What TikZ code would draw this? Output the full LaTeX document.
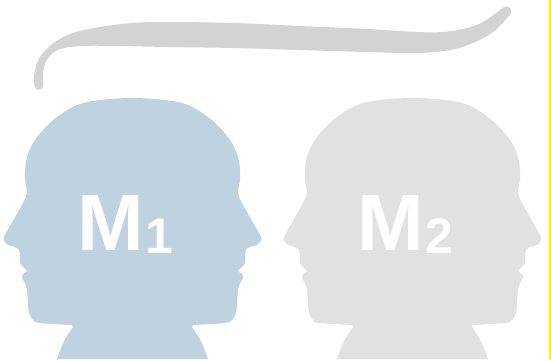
\documentclass[tikz,border=0pt]{standalone}
\usepackage{fontspec}
\setmainfont{Liberation Sans}
\usepackage{xcolor}
\usepackage{tikz}
\usetikzlibrary{positioning}

\definecolor{headblue}{RGB}{191,210,223}
\definecolor{headgray}{RGB}{225,225,225}
\definecolor{swooshgray}{RGB}{211,211,211}

% subscript digit next to the big M
\newcommand{\headidx}[1]{{\fontsize{50}{50}\selectfont\kern2pt\raisebox{-3pt}{#1}}}

\begin{document}
\begin{tikzpicture}[
        x=1pt, y=-1pt,
        twoface/.pic={
            \fill[pic actions] (-75.5,359) .. controls (-69,341) .. (-59.5,327)
                -- plot[smooth, tension=0.55] coordinates {
                    (-60.5,325) (-92.5,323) (-99.5,320) (-103.5,313) (-104.5,303)
                    (-105.5,290) (-107.5,283) (-110.5,278) (-109.5,274) (-105.5,271)
                    (-109.5,267) (-112.5,263) (-112.5,257) (-113.5,250) (-117.5,247)
                    (-124.5,245) (-127.5,242) (-128.5,237) (-119,220) (-109.5,203)
                    (-105.5,193) (-107.5,180) (-107.5,170) (-105.5,157) (-99.5,143)
                    (-89.5,130) (-75.5,117) (-55.5,105) (-32.5,100) (0,98)
                    (32.5,100) (55.5,105) (75.5,117) (89.5,130) (99.5,143)
                    (105.5,157) (107.5,170) (107.5,180) (105.5,193) (109.5,203)
                    (119,220) (128.5,237) (127.5,242) (124.5,245) (117.5,247)
                    (113.5,250) (112.5,257) (112.5,263) (109.5,267) (105.5,271)
                    (109.5,274) (110.5,278) (107.5,283) (105.5,290) (104.5,303)
                    (103.5,313) (99.5,320) (92.5,323) (60.5,325)}
                -- (59.5,327) .. controls (69,341) .. (75.5,359) -- cycle;
        },
        mlabel/.style={text=white, inner sep=0pt, anchor=base west,
                       font=\fontsize{80}{80}\selectfont\bfseries},
    ]
    \useasboundingbox (0,0) rectangle (551,361);

    % brush stroke over the heads
    \fill[swooshgray] plot[smooth cycle, tension=0.6] coordinates {
        (38.5,90) (34.5,86) (34,77) (37,63) (43,53) (55,42) (73,33) (100,27)
        (133,23) (167,22) (233,23) (300,26) (367,29) (417,32) (443,32) (467,28)
        (483,22) (500,10) (505,6.5) (510,8) (511,13) (507,18) (493,32) (473,43)
        (450,50) (417,53) (367,52) (300,50) (233,48) (167,47) (117,46) (83,46)
        (60,49) (48,58) (43.5,70) (43,86)};

    \pic[fill=headblue] (h1) at (132.5,0) {twoface};
    \pic[fill=headgray] (h2) at (412.5,0) {twoface};

    \node[mlabel] (m1) at (77,250) {M\headidx{1}};
    \node[mlabel] (m2) at (357,250) {M\headidx{2}};

    \draw[yellow, line width=1.5pt] (549.75,0) -- (549.75,359);
\end{tikzpicture}
\end{document}
